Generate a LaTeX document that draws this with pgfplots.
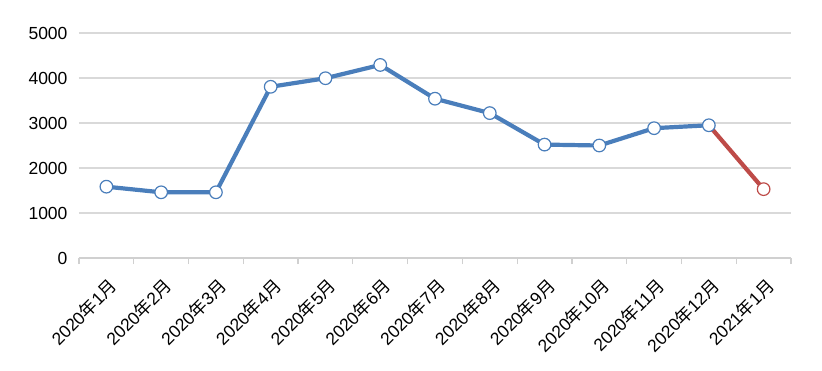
\documentclass[border=0pt]{standalone}
\usepackage{fontspec}
\setmainfont{Liberation Sans}
\newfontfamily\cjk{Noto Sans CJK SC}
\usepackage{pgfplots}
\pgfplotsset{compat=1.18}
\definecolor{lblue}{HTML}{4A7EBB}
\definecolor{lred}{HTML}{BE4B48}
\definecolor{gridc}{HTML}{D9D9D9}
\definecolor{axc}{HTML}{D0D0D0}
\newcommand{\ym}[2]{#1{\cjk 年}#2{\cjk 月}}
\begin{document}
\begin{tikzpicture}
\path[use as bounding box] (-79pt,-112pt) rectangle (743pt,258pt);
\begin{axis}[
  scale only axis,
  width=712pt, height=225pt,
  xmin=-0.5, xmax=12.5,
  ymin=0, ymax=5000,
  ytick={0,1000,...,5000},
  xtick={0,...,12},
  xticklabels={\ym{2020}{1},\ym{2020}{2},\ym{2020}{3},\ym{2020}{4},\ym{2020}{5},\ym{2020}{6},\ym{2020}{7},\ym{2020}{8},\ym{2020}{9},\ym{2020}{10},\ym{2020}{11},\ym{2020}{12},\ym{2021}{1}},
  minor xtick={-0.5,0.5,...,12.5},
  axis x line=bottom,
  axis y line=left,
  x axis line style={-, draw=axc, line width=1.2pt},
  y axis line style={draw=none},
  major tick length=0pt,
  minor tick length=6pt,
  tick align=outside,
  minor tick style={draw=axc, line width=1.2pt},
  ymajorgrids,
  major grid style={draw=gridc, line width=1.2pt},
  /pgf/number format/assume math mode=true,
  /pgf/number format/1000 sep={},
  tick label style={font=\fontsize{17.5}{20}\selectfont, text=black},
  yticklabel style={xshift=-8pt},
  xticklabel style={xshift=8pt, yshift=-24pt, rotate=45, anchor=east, inner sep=1pt},
  clip=false,
]
\addplot[color=lred, line width=4.2pt, mark=*, mark indices={2},
  mark options={fill=white, draw=lred, line width=1.2pt}, mark size=6.3pt]
  coordinates {(11,2950) (12,1530)};
\addplot[color=lblue, line width=4.2pt, mark=*,
  mark options={fill=white, draw=lblue, line width=1.2pt}, mark size=6.3pt]
  coordinates {(0,1585) (1,1460) (2,1460) (3,3805) (4,3995) (5,4290) (6,3540) (7,3220) (8,2520) (9,2500) (10,2885) (11,2950)};
\end{axis}
\end{tikzpicture}
\end{document}
